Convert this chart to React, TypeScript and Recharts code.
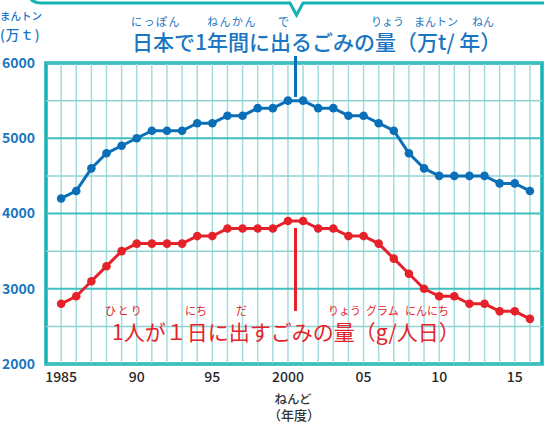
import React from 'react';
import { LineChart, Line, XAxis, YAxis, ReferenceLine, ReferenceArea } from 'recharts';

const years = [1985, 1986, 1987, 1988, 1989, 1990, 1991, 1992, 1993, 1994, 1995, 1996, 1997, 1998, 1999, 2000, 2001, 2002, 2003, 2004, 2005, 2006, 2007, 2008, 2009, 2010, 2011, 2012, 2013, 2014, 2015, 2016];
const totalWaste = [4200, 4300, 4600, 4800, 4900, 5000, 5100, 5100, 5100, 5200, 5200, 5300, 5300, 5400, 5400, 5500, 5500, 5400, 5400, 5300, 5300, 5200, 5100, 4800, 4600, 4500, 4500, 4500, 4500, 4400, 4400, 4300];
const perPerson = [2800, 2900, 3100, 3300, 3500, 3600, 3600, 3600, 3600, 3700, 3700, 3800, 3800, 3800, 3800, 3900, 3900, 3800, 3800, 3700, 3700, 3600, 3400, 3200, 3000, 2900, 2900, 2800, 2800, 2700, 2700, 2600];
const xTicks = [1985, 1990, 1995, 2000, 2005, 2010, 2015];
const xTickLabels = ['1985', '90', '95', '2000', '05', '10', '15'];
const yTicks = [2000, 3000, 4000, 5000, 6000];
const yMinor = [2500, 3500, 4500, 5500];

const data = years.map((y, i) => ({ year: y, total: totalWaste[i], person: perPerson[i] }));

const BLUE = '#0b6fb8';
const TITLE_BLUE = '#1a76c2';
const RED = '#e5222a';
const TEAL = '#16b3b6';
const FONT = '"Noto Sans CJK JP", "Noto Sans", sans-serif';
const X_MIN = 1984;
const X_MAX = 2016.8;

const blueRuby = [
  { t: 'にっぽん', x: 131, ls: 1.5 },
  { t: 'ねんかん', x: 207, ls: 1.5 },
  { t: 'で', x: 278, ls: 0 },
  { t: 'りょう', x: 371, ls: 0 },
  { t: 'まんトン', x: 414, ls: 0 },
  { t: 'ねん', x: 472, ls: 0 },
];
const redRuby = [
  { t: 'ひとり', x: 105, ls: 2 },
  { t: 'にち', x: 185, ls: 0 },
  { t: 'だ', x: 236, ls: 0 },
  { t: 'りょう', x: 328, ls: 0 },
  { t: 'グラム', x: 366, ls: 0 },
  { t: 'にんにち', x: 405, ls: 0 },
];

const abs = (left: number, top: number, size: number, color: string, extra: any = {}) => ({
  position: 'absolute' as const,
  left,
  top,
  fontSize: size,
  color,
  fontFamily: FONT,
  lineHeight: 1,
  whiteSpace: 'nowrap' as const,
  ...extra,
});

export default function App() {
  return (
    <div style={{ position: 'absolute', left: 0, top: 0, width: 544, height: 427, background: '#fff', overflow: 'hidden' }}>
      <LineChart width={544} height={427} data={data} margin={{ top: 63, right: 2, bottom: 33, left: 0 }}>
        <XAxis
          dataKey="year"
          type="number"
          domain={[X_MIN, X_MAX]}
          ticks={xTicks}
          tickFormatter={(v: number) => xTickLabels[xTicks.indexOf(v)]}
          axisLine={false}
          tickLine={false}
          tickSize={0}
          tickMargin={8}
          height={30}
          interval={0}
          allowDataOverflow
          tick={{ fill: '#2a2a2a', fontSize: 14, fontFamily: FONT, fontWeight: 500 }}
        />
        <YAxis
          type="number"
          domain={[2000, 6000]}
          ticks={yTicks}
          axisLine={false}
          tickLine={false}
          tickSize={0}
          tickMargin={11}
          width={46}
          interval={0}
          allowDataOverflow
          tick={{ fill: TITLE_BLUE, fontSize: 14, fontFamily: FONT, fontWeight: 700 }}
        />
        {years.map((y) => (
          <ReferenceLine key={'v' + y} x={y} stroke="#a3dcdd" strokeWidth={1.5} ifOverflow="visible" />
        ))}
        {yMinor.map((v) => (
          <ReferenceLine key={'m' + v} y={v} stroke="#8ed3d4" strokeWidth={1.5} />
        ))}
        {yTicks.map((v) => (
          <ReferenceLine key={'M' + v} y={v} stroke="#3fbfc0" strokeWidth={2} />
        ))}
        <ReferenceArea x1={X_MIN} x2={X_MAX} y1={2000} y2={6000} fill="none" fillOpacity={0} stroke={TEAL} strokeWidth={3.5} ifOverflow="visible" />
        <Line dataKey="total" stroke={BLUE} strokeWidth={3} dot={{ r: 4.3, fill: BLUE, stroke: BLUE, strokeWidth: 0 }} isAnimationActive={false} />
        <Line dataKey="person" stroke={RED} strokeWidth={3} dot={{ r: 4.3, fill: RED, stroke: RED, strokeWidth: 0 }} isAnimationActive={false} />
      </LineChart>

      <svg width={544} height={427} style={{ position: 'absolute', left: 0, top: 0, pointerEvents: 'none' }}>
        <path d="M 28 -20 L 28 -10 Q 28 3 42 3 L 290 3 L 296.5 15 L 303 3 L 560 3" fill="none" stroke={TEAL} strokeWidth={3} />
        <line x1={295.5} y1={56} x2={295.5} y2={97} stroke={BLUE} strokeWidth={3} />
        <line x1={295.5} y1={228} x2={295.5} y2={311} stroke={RED} strokeWidth={3} />
      </svg>

      <div style={abs(0, 11, 10.5, TITLE_BLUE, { fontWeight: 500 })}>まんトン</div>
      <div style={abs(0, 28, 13.5, TITLE_BLUE, { fontWeight: 500, letterSpacing: 1 })}>(万ｔ)</div>

      {blueRuby.map((r) => (
        <div key={'b' + r.x} style={abs(r.x, 16, 11, TITLE_BLUE, { letterSpacing: r.ls, fontWeight: 400 })}>{r.t}</div>
      ))}
      <div style={abs(132, 31, 21, TITLE_BLUE, { fontWeight: 500 })}>日本で1年間に出るごみの量（万t/ 年）</div>

      {redRuby.map((r) => (
        <div key={'r' + r.x} style={abs(r.x, 305, 11, RED, { letterSpacing: r.ls, fontWeight: 400 })}>{r.t}</div>
      ))}
      <div style={abs(112, 321, 21, RED, { fontWeight: 400 })}>1人が１日に出すごみの量（g/人日）</div>

      <div style={abs(243, 393, 12.5, '#333', { width: 100, textAlign: 'center', fontWeight: 500 })}>ねんど</div>
      <div style={abs(244, 408, 13, '#333', { width: 100, textAlign: 'center', fontWeight: 500 })}>（年度）</div>
    </div>
  );
}
